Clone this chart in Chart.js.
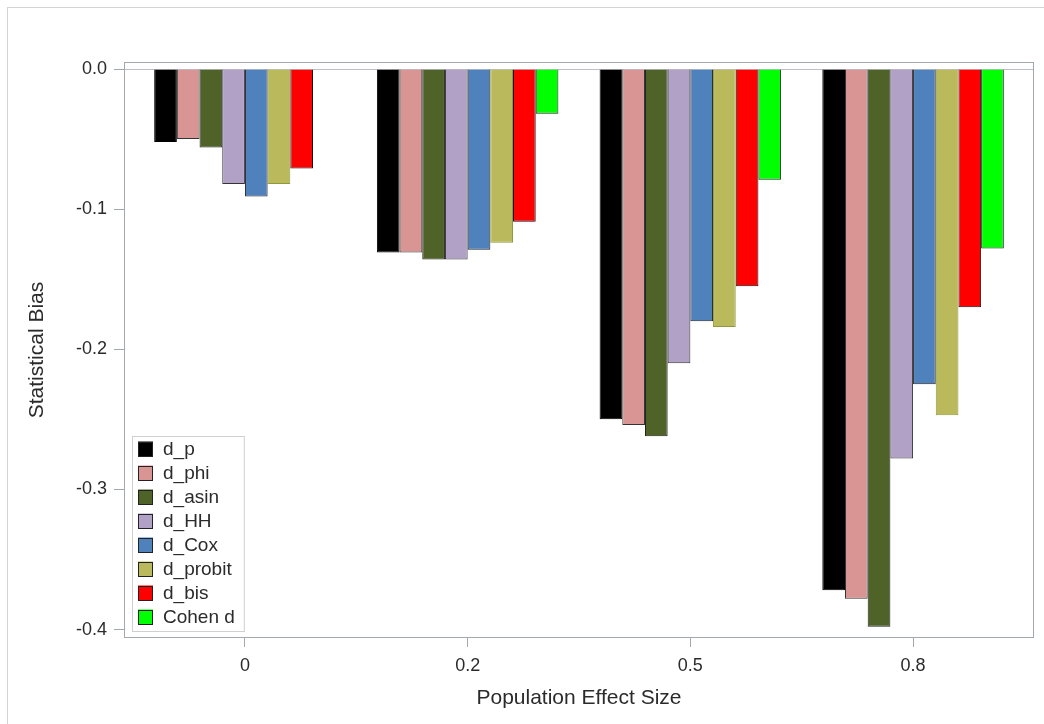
<!DOCTYPE html>
<html>
<head>
<meta charset="utf-8">
<title>Statistical Bias by Population Effect Size</title>
<script src="https://cdn.jsdelivr.net/npm/chart.js@4.4.1/dist/chart.umd.min.js"></script>
<style>
    html, body { margin: 0; padding: 0; background: #ffffff; }
    .chart-wrap { position: relative; width: 1044px; height: 724px; overflow: hidden; }
    .page-edge {
        position: absolute; left: 7px; top: 7px; right: -10px; bottom: -10px;
        border-left: 1px solid #d4d4d4; border-top: 1px solid #d4d4d4;
        pointer-events: none;
    }
</style>
</head>
<body>
<div class="chart-wrap">
    <canvas id="bias-chart" width="1044" height="724"></canvas>
    <div class="page-edge"></div>
</div>
<script>
// Effect size groups along the x axis
const effectSizes = ['0', '0.2', '0.5', '0.8'];

// Bias of each estimator, one value per effect size
const dP      = [-0.052, -0.131, -0.250, -0.372];
const dPhi    = [-0.050, -0.131, -0.254, -0.378];
const dAsin   = [-0.056, -0.136, -0.262, -0.398];
const dHH     = [-0.082, -0.136, -0.210, -0.278];
const dCox    = [-0.091, -0.129, -0.180, -0.225];
const dProbit = [-0.082, -0.124, -0.184, -0.247];
const dBis    = [-0.071, -0.109, -0.155, -0.170];
const cohenD  = [null,   -0.032, -0.079, -0.128];

// Y axis tick values
const biasTicks = [-0.4, -0.3, -0.2, -0.1, 0.0];

const FONT = '"Liberation Sans", Arial, Helvetica, sans-serif';
const TEXT_COLOR = '#2b2b2b';
const FRAME_COLOR = '#a4a9ad';

// Series styles
const seriesList = [
    { label: 'd_p',      values: dP,      fill: '#000000', line: '#000000' },
    { label: 'd_phi',    values: dPhi,    fill: '#d99594', line: '#333333' },
    { label: 'd_asin',   values: dAsin,   fill: '#4f6228', line: '#222222' },
    { label: 'd_HH',     values: dHH,     fill: '#b2a1c7', line: '#333333' },
    { label: 'd_Cox',    values: dCox,    fill: '#4f81bd', line: '#222222' },
    { label: 'd_probit', values: dProbit, fill: '#baba5c', line: '#8e9a3a' },
    { label: 'd_bis',    values: dBis,    fill: '#ff0000', line: '#111111' },
    { label: 'Cohen d',  values: cohenD,  fill: '#00ff00', line: '#222222' }
];

// Build datasets (x = group index on a linear axis)
const datasets = seriesList.map(s => ({
    label: s.label,
    data: s.values.map((v, i) => ({ x: i, y: v })),
    backgroundColor: s.fill,
    borderColor: s.line,
    borderWidth: 1,
    categoryPercentage: 0.815,
    barPercentage: 1.0
}));

// Frame, zero reference line and inset legend
const framePlugin = {
    id: 'framePlugin',
    beforeDatasetsDraw(chart) {
        const { ctx, chartArea, scales } = chart;
        const y0 = Math.round(scales.y.getPixelForValue(0)) + 0.5;
        ctx.save();
        ctx.strokeStyle = '#bcc0c4';
        ctx.lineWidth = 1;
        ctx.beginPath();
        ctx.moveTo(chartArea.left, y0);
        ctx.lineTo(chartArea.right, y0);
        ctx.stroke();
        ctx.restore();
    },
    afterDraw(chart) {
        const { ctx, chartArea } = chart;
        ctx.save();
        ctx.strokeStyle = FRAME_COLOR;
        ctx.lineWidth = 1;
        ctx.strokeRect(chartArea.left + 0.5, chartArea.top + 0.5,
            chartArea.right - chartArea.left - 1, chartArea.bottom - chartArea.top - 1);

        // Legend box in the lower left corner
        const rowH = 24;
        const sw = 15;
        ctx.font = '19px ' + FONT;
        const textW = Math.max(...chart.data.datasets.map(d => ctx.measureText(d.label).width));
        const boxW = 31 + textW + 9;
        const boxH = rowH * chart.data.datasets.length + 3;
        const boxX = chartArea.left + 8;
        const boxY = chartArea.bottom - 7 - boxH;
        ctx.fillStyle = '#ffffff';
        ctx.fillRect(boxX, boxY, boxW, boxH);
        ctx.strokeStyle = '#d0d0d0';
        ctx.strokeRect(boxX + 0.5, boxY + 0.5, boxW, boxH);

        ctx.textBaseline = 'middle';
        chart.data.datasets.forEach((d, i) => {
            const cy = boxY + 13 + i * rowH;
            ctx.fillStyle = d.backgroundColor;
            ctx.fillRect(boxX + 6, cy - sw / 2, sw, sw);
            ctx.strokeStyle = '#222222';
            ctx.strokeRect(boxX + 6.5, Math.round(cy - sw / 2) + 0.5, sw - 1, sw - 1);
            ctx.fillStyle = TEXT_COLOR;
            ctx.fillText(d.label, boxX + 31, cy + 1);
        });
        ctx.restore();
    }
};

// Render Chart
const ctx = document.getElementById('bias-chart').getContext('2d');
new Chart(ctx, {
    type: 'bar',
    data: { datasets },
    options: {
        responsive: false,
        animation: false,
        devicePixelRatio: 1,
        layout: { padding: { left: 0, right: 10, top: 62, bottom: 0 } },
        plugins: {
            legend: { display: false },
            tooltip: { enabled: false }
        },
        scales: {
            x: {
                type: 'linear',
                offset: false,
                min: -0.543,
                max: 3.543,
                afterBuildTicks: scale => {
                    scale.ticks = effectSizes.map((_, i) => ({ value: i }));
                },
                afterFit: scale => { scale.height = 86; },
                grid: {
                    offset: false,
                    drawOnChartArea: false,
                    drawTicks: true,
                    tickLength: 9,
                    color: FRAME_COLOR
                },
                border: { display: false },
                ticks: {
                    padding: 8,
                    color: TEXT_COLOR,
                    font: { family: FONT, size: 18 },
                    maxRotation: 0,
                    callback: value => effectSizes[value]
                },
                title: {
                    display: true,
                    text: 'Population Effect Size',
                    color: TEXT_COLOR,
                    font: { family: FONT, size: 21 },
                    padding: { top: 0, bottom: 13 }
                }
            },
            y: {
                min: -0.406,
                max: 0.005,
                afterBuildTicks: scale => {
                    scale.ticks = biasTicks.map(v => ({ value: v }));
                },
                afterFit: scale => { scale.width = 124; },
                grid: {
                    drawOnChartArea: false,
                    drawTicks: true,
                    tickLength: 10,
                    color: FRAME_COLOR
                },
                border: { display: false },
                ticks: {
                    padding: 7,
                    color: TEXT_COLOR,
                    font: { family: FONT, size: 18 },
                    callback: value => value.toFixed(1)
                },
                title: {
                    display: true,
                    text: 'Statistical Bias',
                    color: TEXT_COLOR,
                    font: { family: FONT, size: 21 },
                    padding: { top: 25, bottom: 0 }
                }
            }
        }
    },
    plugins: [framePlugin]
});
</script>
</body>
</html>
